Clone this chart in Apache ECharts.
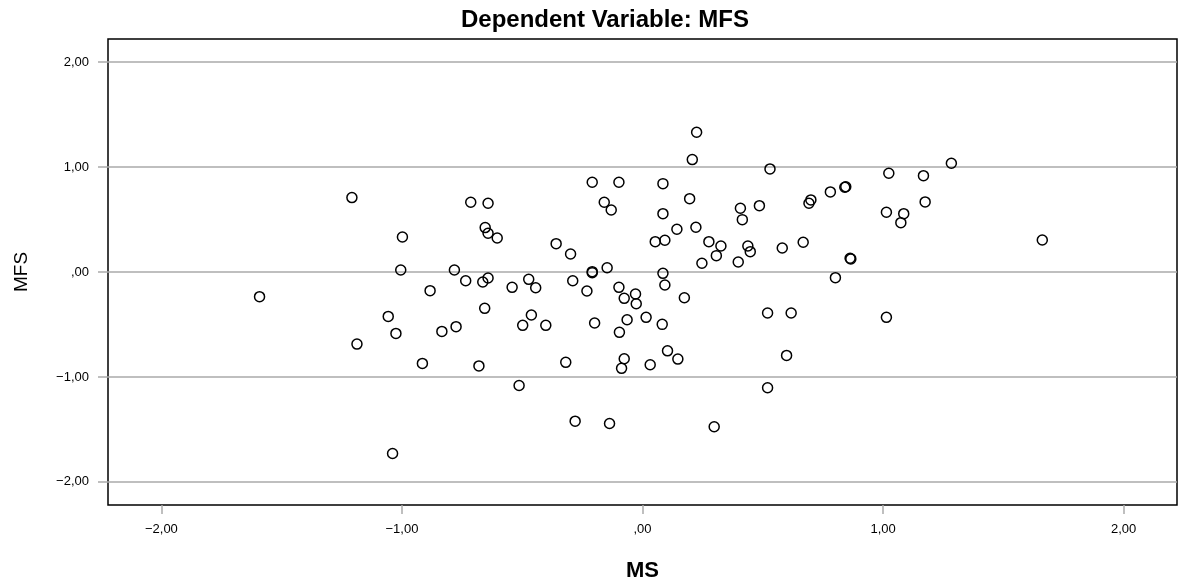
<!DOCTYPE html>
<html>
<head>
<meta charset="utf-8">
<script src="https://cdn.jsdelivr.net/npm/echarts@6/dist/echarts.min.js"></script>
<style>
html,body{margin:0;padding:0;background:#fff;}
#chart{width:1179px;height:588px;}
</style>
</head>
<body>
<div id="chart"></div>
<script>
var chartTitle = 'Dependent Variable: MFS';
var xName = 'MS';
var yName = 'MFS';
var xTicks = [-2, -1, 0, 1, 2];
var yTicks = [-2, -1, 0, 1, 2];
var msValues = [
  -1.592, -1.208, -1.187, -1.057, -1.039, -1.025, -0.998, -1.005, -0.915, -0.883,
  -0.834, -0.782, -0.775, -0.735, -0.714, -0.680, -0.664, -0.654, -0.656, -0.642,
  -0.642, -0.642, -0.604, -0.542, -0.513, -0.498, -0.473, -0.462, -0.444, -0.402,
  -0.359, -0.319, -0.299, -0.290, -0.280, -0.231, -0.209, -0.209, -0.209, -0.199,
  -0.159, -0.147, -0.137, -0.130, -0.098, -0.098, -0.096, -0.087, -0.076, -0.076,
  -0.064, -0.029, -0.026, 0.015, 0.032, 0.053, 0.082, 0.085, 0.085, 0.085,
  0.093, 0.093, 0.104, 0.143, 0.147, 0.174, 0.196, 0.207, 0.222, 0.225,
  0.247, 0.276, 0.298, 0.307, 0.326, 0.398, 0.407, 0.415, 0.438, 0.448,
  0.486, 0.520, 0.520, 0.530, 0.581, 0.599, 0.618, 0.668, 0.692, 0.700,
  0.781, 0.802, 0.841, 0.845, 0.863, 0.866, 1.014, 1.014, 1.024, 1.074,
  1.086, 1.168, 1.175, 1.284, 1.662
];
var mfsValues = [
  -0.235, 0.709, -0.687, -0.423, -1.729, -0.585, 0.334, 0.019, -0.871, -0.178,
  -0.566, 0.019, -0.521, -0.083, 0.665, -0.895, -0.095, 0.423, -0.346, 0.655,
  0.369, -0.057, 0.324, -0.146, -1.081, -0.508, -0.070, -0.410, -0.150, -0.508,
  0.270, -0.861, 0.172, -0.083, -1.421, -0.181, 0.855, 0.003, -0.006, -0.486,
  0.665, 0.041, -1.443, 0.591, 0.855, -0.146, -0.575, -0.918, -0.251, -0.827,
  -0.455, -0.210, -0.302, -0.432, -0.884, 0.289, -0.499, 0.842, 0.556, -0.013,
  0.302, -0.124, -0.751, 0.407, -0.830, -0.245, 0.699, 1.071, 0.426, 1.332,
  0.083, 0.289, -1.475, 0.156, 0.248, 0.095, 0.607, 0.499, 0.248, 0.194,
  0.632, -0.391, -1.103, 0.982, 0.229, -0.795, -0.391, 0.283, 0.655, 0.687,
  0.763, -0.054, 0.808, 0.812, 0.131, 0.125, 0.569, -0.432, 0.941, 0.470,
  0.556, 0.918, 0.668, 1.036, 0.305
];

function fmt(v) {
  if (v === 0) return ',00';
  var s = Math.abs(v).toFixed(2).replace('.', ',');
  return (v < 0 ? '\u2212' : '') + s;
}

var points = msValues.map(function (x, i) { return [x, mfsValues[i]]; });
var font = 'Arial, "Liberation Sans", sans-serif';

var chart = echarts.init(document.getElementById('chart'), null, {renderer: 'canvas'});
chart.setOption({
  animation: false,
  backgroundColor: '#fff',
  title: {
    text: chartTitle,
    left: 600,
    textAlign: 'center',
    top: 3,
    textStyle: {fontFamily: font, fontSize: 24, fontWeight: 'bold', color: '#000'}
  },
  grid: {
    left: 108, right: 2, top: 39, bottom: 83,
    containLabel: false,
    outerBoundsMode: 'none',
    show: true, borderColor: '#000', borderWidth: 1.5, backgroundColor: 'transparent'
  },
  xAxis: {
    type: 'value', min: -2.222, max: 2.222,
    name: xName, nameLocation: 'middle', nameGap: 55,
    nameTextStyle: {fontFamily: font, fontSize: 22, fontWeight: 'bold', color: '#000'},
    axisLine: {show: false, onZero: false},
    axisTick: {show: true, customValues: xTicks, length: 9, lineStyle: {color: '#aaa', width: 1.5}},
    axisLabel: {customValues: xTicks, formatter: fmt, margin: 18, fontFamily: font, fontSize: 13, color: '#000'},
    splitLine: {show: false}
  },
  yAxis: {
    type: 'value', min: -2.22, max: 2.22,
    name: yName, nameLocation: 'middle', nameGap: 77,
    nameTextStyle: {fontFamily: font, fontSize: 19, color: '#000'},
    axisLine: {show: false, onZero: false},
    axisTick: {show: true, customValues: yTicks, length: 10, lineStyle: {color: '#aaa', width: 1.5}},
    axisLabel: {customValues: yTicks, formatter: fmt, margin: 19, fontFamily: font, fontSize: 13, color: '#000'},
    splitLine: {show: false}
  },
  series: [{
    type: 'scatter',
    data: points,
    symbol: 'circle',
    symbolSize: 10,
    itemStyle: {color: 'rgba(0,0,0,0)', borderColor: '#000', borderWidth: 1.5, opacity: 1},
    emphasis: {disabled: true},
    markLine: {
      silent: true,
      symbol: ['none', 'none'],
      label: {show: false},
      lineStyle: {color: '#aaa', width: 1.5, type: 'solid'},
      data: yTicks.map(function (v) { return {yAxis: v}; }),
      z: 1
    },
    z: 3
  }]
});
</script>
</body>
</html>
